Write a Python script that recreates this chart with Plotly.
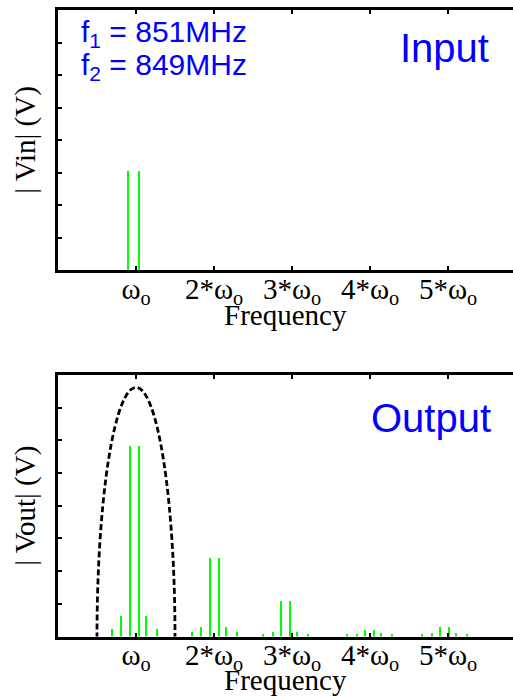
import plotly.graph_objects as go

# Harmonic tick labels (multiples of the fundamental)
harmonic_ticks = [1, 2, 3, 4, 5]
harmonic_labels = ["ω<sub>o</sub>", "2*ω<sub>o</sub>", "3*ω<sub>o</sub>",
                   "4*ω<sub>o</sub>", "5*ω<sub>o</sub>"]

# Two-tone input spectrum (frequency in units of ω_o)
in_freq = [0.897, 1.038]
in_mag = [3.05, 3.05]

# Output spectrum: fundamental, harmonics and intermodulation products
out_freq = [0.688, 0.808, 0.923, 1.038, 1.128, 1.269,
            1.714, 1.833, 1.949, 2.064, 2.150, 2.295,
            2.632, 2.753, 2.859, 2.974, 3.064, 3.205,
            3.701, 3.829, 3.936, 4.051, 4.141, 4.286,
            4.663, 4.791, 4.897, 5.013, 5.106, 5.247]
out_mag = [0.23, 0.63, 5.82, 5.82, 0.63, 0.23,
           0.14, 0.30, 2.41, 2.41, 0.30, 0.14,
           0.08, 0.14, 1.09, 1.09, 0.14, 0.08,
           0.08, 0.09, 0.20, 0.20, 0.10, 0.08,
           0.08, 0.10, 0.28, 0.28, 0.10, 0.08]

# Passband envelope drawn around the fundamental
env_center = 1.0
env_halfwidth = 0.5
env_peak = 7.62

W, H = 513, 696
x_left = 58
GREEN = "#00ff00"
BLUE = "#0000ff"
serif = "Liberation Serif"
sans = "Liberation Sans"

fig = go.Figure()
fig.add_trace(go.Bar(x=in_freq, y=in_mag, width=0.027, marker=dict(color=GREEN, line=dict(width=0)),
                     xaxis="x", yaxis="y", showlegend=False))
fig.add_trace(go.Bar(x=out_freq, y=out_mag, width=0.027, marker=dict(color=GREEN, line=dict(width=0)),
                     xaxis="x2", yaxis="y2", showlegend=False))

xr = [0, (W - x_left) / 78.0]


def xax(anchor):
    return dict(range=xr, domain=[x_left / W, 1.0], anchor=anchor, automargin=False,
                tickvals=harmonic_ticks, ticktext=harmonic_labels,
                ticks="inside", ticklen=4, tickwidth=1.5, tickcolor="black",
                ticklabelstandoff=-9,
                showline=True, linecolor="black", linewidth=2.5, mirror="ticks",
                showgrid=False, zeroline=False,
                tickfont=dict(family=serif, size=29, color="black"))


def yax(anchor, dom, label):
    return dict(range=[0, 8], domain=dom, anchor=anchor, automargin=False,
                tickvals=[1, 2, 3, 4, 5, 6, 7], showticklabels=False,
                ticks="inside", ticklen=4, tickwidth=1.5, tickcolor="black",
                showline=True, linecolor="black", linewidth=2.5, mirror=False,
                showgrid=False, zeroline=False,
                title=dict(text=label, font=dict(family=serif, size=29, color="black"), standoff=12))


top_dom = [1 - 270 / H, 1 - 10 / H]
bot_dom = [1 - 636.5 / H, 1 - 375 / H]

fig.update_layout(
    width=W, height=H,
    margin=dict(l=0, r=0, t=0, b=0),
    paper_bgcolor="white", plot_bgcolor="white",
    bargap=0,
    xaxis=xax("y"),
    yaxis=yax("x", top_dom, "| Vin| (V)"),
    xaxis2=xax("y2"),
    yaxis2=yax("x2", bot_dom, "| Vout| (V)"),
)

fig.add_shape(type="circle", xref="x2", yref="y2",
              x0=env_center - env_halfwidth, x1=env_center + env_halfwidth,
              y0=-env_peak, y1=env_peak,
              line=dict(color="black", width=2.8, dash="6px,3px"))

# Frequency axis titles
for yc in (315, 680):
    fig.add_annotation(xref="paper", yref="paper", x=285.5 / W, y=1 - yc / H,
                       xanchor="center", yanchor="middle", text="Frequency", showarrow=False,
                       font=dict(family=serif, size=29, color="black"))

fig.add_annotation(xref="paper", yref="paper", x=79 / W, y=1 - 34 / H, xanchor="left", yanchor="middle",
                   text="f<sub>1</sub> = 851MHz", showarrow=False,
                   font=dict(family=sans, size=30, color=BLUE))
fig.add_annotation(xref="paper", yref="paper", x=79 / W, y=1 - 66 / H, xanchor="left", yanchor="middle",
                   text="f<sub>2</sub> = 849MHz", showarrow=False,
                   font=dict(family=sans, size=30, color=BLUE))
fig.add_annotation(xref="paper", yref="paper", x=491 / W, y=1 - 48 / H, xanchor="right", yanchor="middle",
                   text="Input", showarrow=False,
                   font=dict(family=sans, size=40, color=BLUE))
fig.add_annotation(xref="paper", yref="paper", x=493 / W, y=1 - 418 / H, xanchor="right", yanchor="middle",
                   text="Output", showarrow=False,
                   font=dict(family=sans, size=40, color=BLUE))

fig.write_html("out.html")
